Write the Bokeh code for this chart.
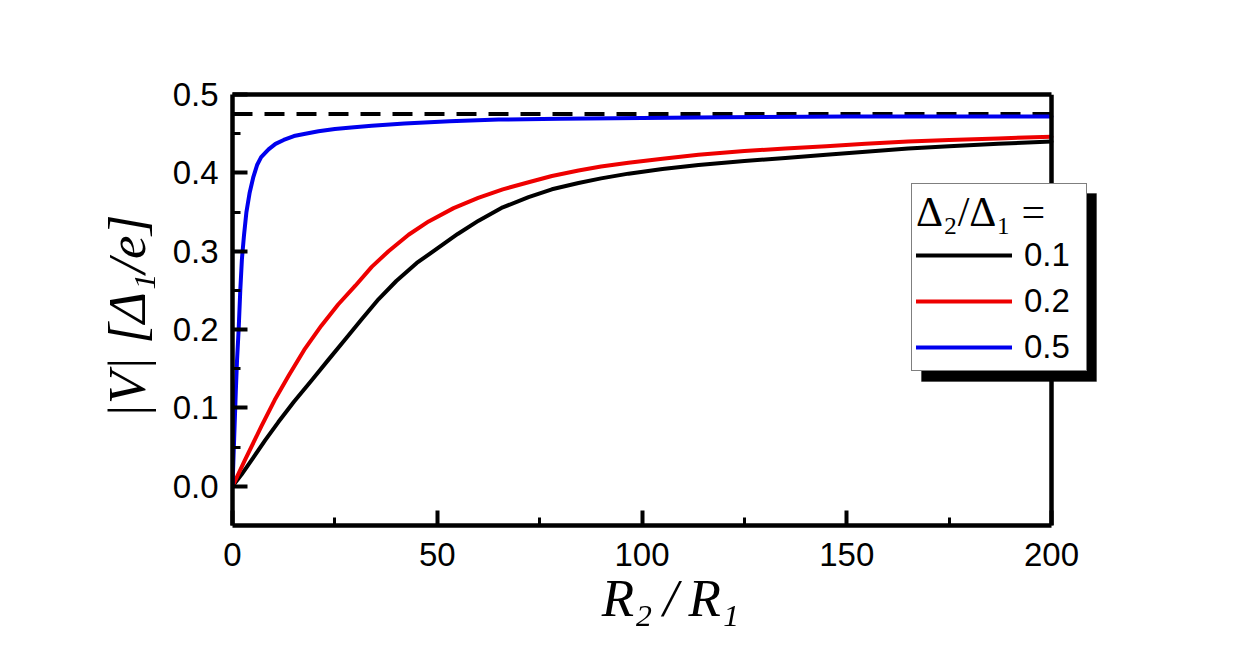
from bokeh.plotting import figure
from bokeh.models import (Range1d, FixedTicker, PrintfTickFormatter, Span,
                          Legend, LegendItem, LinearAxis, BoxAnnotation)
from bokeh.embed import file_html
from bokeh.resources import INLINE

# ---- data ----
ratio_labels = ["0.1", "0.2", "0.5"]
series_colors = ["#000000", "#ee0000", "#0000ee"]

x_01 = [0, 2.2, 5, 8, 11.2, 15, 19.3, 23.5, 27.6, 31.5, 35.7, 40, 45, 49.6, 55, 60.1, 66, 72.3,
        78, 84.5, 90, 96.7, 105, 113.8, 125, 135, 145, 154.6, 165, 175, 187, 200]
y_01 = [0, 0.015, 0.036, 0.059, 0.082, 0.108, 0.135, 0.162, 0.188, 0.213, 0.239, 0.262, 0.285, 0.302,
        0.322, 0.339, 0.356, 0.369, 0.379, 0.387, 0.393, 0.399, 0.405, 0.410, 0.415, 0.419, 0.423,
        0.427, 0.431, 0.434, 0.437, 0.440]

x_02 = [0, 3, 7.1, 10.3, 13.7, 17.5, 21.7, 25.8, 30, 34, 38.1, 43, 47.9, 54, 60, 66, 72.3, 78,
        84.5, 90, 96.7, 105, 113.8, 125, 135, 145, 154.6, 165, 175, 187, 200]
y_02 = [0, 0.033, 0.077, 0.110, 0.141, 0.174, 0.205, 0.232, 0.256, 0.280, 0.300, 0.321, 0.338,
        0.355, 0.368, 0.379, 0.388, 0.396, 0.403, 0.408, 0.413, 0.418, 0.423, 0.428, 0.431, 0.434,
        0.437, 0.440, 0.442, 0.444, 0.446]

x_05 = [0, 0.2, 0.4, 0.6, 0.8, 1.1, 1.5, 1.9, 2.3, 2.8, 3.4, 4.2, 5.1, 6, 7, 8.8, 10.5, 12.5, 15,
        17.8, 21, 25, 29, 34, 42, 53, 65, 80, 100, 120, 150, 200]
y_05 = [0, 0.03, 0.06, 0.09, 0.12, 0.16, 0.20, 0.25, 0.29, 0.32, 0.35, 0.375, 0.395, 0.41, 0.42,
        0.43, 0.437, 0.442, 0.447, 0.450, 0.453, 0.456, 0.458, 0.460, 0.463, 0.466, 0.468, 0.469,
        0.470, 0.471, 0.472, 0.472]

limit_value = 0.475

x_ticks = [0, 50, 100, 150, 200]
x_minor = [25, 75, 125, 175]
y_ticks = [0.0, 0.1, 0.2, 0.3, 0.4, 0.5]
y_minor = [0.05, 0.15, 0.25, 0.35, 0.45]

x_label = "R\u2082\u2009/\u2009R\u2081"
y_label = "|V|  [\u0394\u2081/e]"
legend_title = "\u0394\u2082/\u0394\u2081 ="

series = [(x_01, y_01), (x_02, y_02), (x_05, y_05)]

x_start, x_end = 0, 200
y_start, y_end = -0.05, 0.5

# ---- layout (pixels) ----
W, H = 1224, 645
left_b, top_b = 232, 94
axis_px = 819                      # pixel width for 0..200
frame_px = 876                     # frame extended to the right so the legend is not clipped
right_b = W - left_b - frame_px
bottom_b = 120
frame_h = H - top_b - bottom_b
x_view_end = x_end * frame_px / axis_px
px_x = x_view_end / frame_px               # data units per pixel (x)
px_y = (y_end - y_start) / frame_h         # data units per pixel (y)

legend_loc = (679, 154)            # legend bottom-left, px from frame bottom-left
legend_size = (175, 188)           # rendered legend box size, px
shadow_off = (10, -10)

p = figure(width=W, height=H, output_backend="svg", toolbar_location=None,
           x_range=Range1d(x_start, x_view_end), y_range=Range1d(y_start, y_end))
p.min_border_left = left_b
p.min_border_right = right_b
p.min_border_top = top_b
p.min_border_bottom = bottom_b
p.background_fill_color = "white"
p.border_fill_color = "white"
p.grid.visible = False
p.outline_line_color = None

LW = 4.5
for ax in (p.xaxis[0], p.yaxis[0]):
    ax.axis_line_width = LW
    ax.major_tick_in = 15
    ax.major_tick_out = 0
    ax.minor_tick_in = 8
    ax.minor_tick_out = 0
    ax.major_tick_line_width = 4
    ax.minor_tick_line_width = 3
    ax.major_label_text_font = "Liberation Sans"
    ax.major_label_text_font_size = "33px"
    ax.major_label_text_color = "black"
    ax.axis_label_text_font = "Liberation Serif"
    ax.axis_label_text_font_style = "italic"
    ax.axis_label_text_font_size = "53px"
    ax.axis_label_text_color = "black"

p.xaxis.bounds = (x_start, x_end)
p.xaxis.ticker = FixedTicker(ticks=x_ticks, minor_ticks=x_minor)
p.yaxis.ticker = FixedTicker(ticks=y_ticks, minor_ticks=y_minor)
p.yaxis.formatter = PrintfTickFormatter(format="%.1f")
p.xaxis.major_label_standoff = 17
p.yaxis.major_label_standoff = 14
p.xaxis.axis_label = x_label
p.yaxis.axis_label = y_label
p.xaxis.axis_label_standoff = 0
p.yaxis.axis_label_standoff = 14

# top spine (no ticks) and right spine
top_axis = LinearAxis(ticker=FixedTicker(ticks=[]), bounds=(x_start, x_end),
                      axis_line_width=LW, major_tick_in=0, major_tick_out=0,
                      minor_tick_in=0, minor_tick_out=0, major_label_text_alpha=0)
p.add_layout(top_axis, "above")
p.add_layout(Span(location=x_end, dimension="height", line_color="black", line_width=LW))

# legend shadow (box offset from the legend box)
sl = legend_loc[0] + shadow_off[0]
sb = legend_loc[1] + shadow_off[1]
shadow = BoxAnnotation(left=x_start + sl * px_x, right=x_start + (sl + legend_size[0]) * px_x,
                       bottom=y_start + sb * px_y, top=y_start + (sb + legend_size[1]) * px_y,
                       fill_color="black", fill_alpha=1, line_color="black", line_width=1)
p.add_layout(shadow)

# dashed limit line from x_start to x_end
p.line([x_start, x_end], [limit_value, limit_value], line_color="black",
       line_width=4, line_dash="20 12")

renderers = []
for (xs, ys), c in zip(series, series_colors):
    r = p.line(xs, ys, line_color=c, line_width=4, line_join="round", line_cap="round")
    renderers.append(r)

lg = Legend(items=[LegendItem(label=lab, renderers=[r]) for lab, r in zip(ratio_labels, renderers)],
            location=legend_loc, orientation="vertical")
lg.title = legend_title
lg.title_text_font = "Liberation Serif"
lg.title_text_font_size = "42px"
lg.title_text_font_style = "normal"
lg.title_text_color = "black"
lg.title_standoff = 0
lg.label_text_font = "Liberation Sans"
lg.label_text_font_size = "33px"
lg.label_text_color = "black"
lg.label_height = 22
lg.glyph_height = 22
lg.glyph_width = 96
lg.label_width = 58
lg.label_standoff = 12
lg.spacing = 8
lg.padding = 4
lg.margin = 0
lg.border_line_color = "black"
lg.border_line_width = 1.5
lg.background_fill_color = "white"
lg.background_fill_alpha = 1
p.add_layout(lg)

open("out.html", "w").write(file_html(p, INLINE))
